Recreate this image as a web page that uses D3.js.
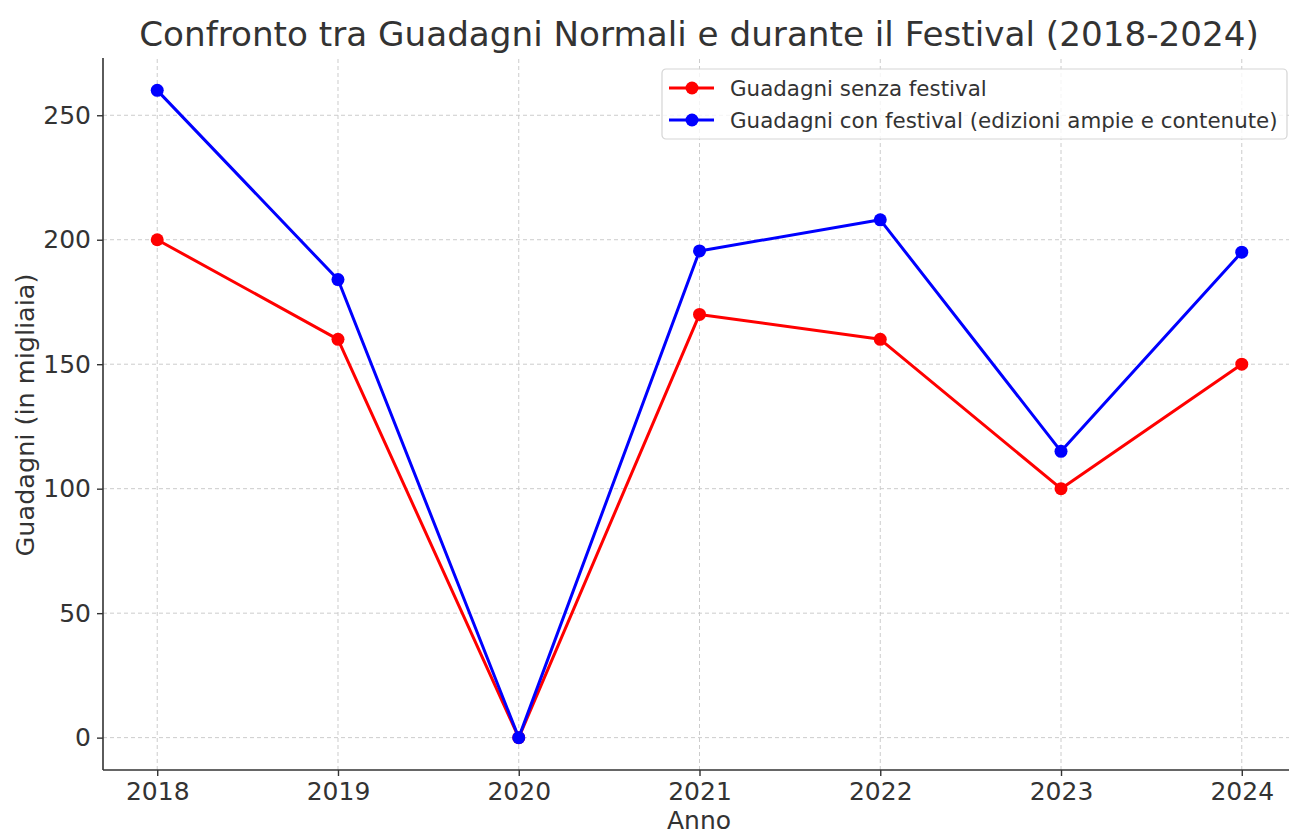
<!DOCTYPE html>
<html>
<head>
<meta charset="utf-8">
<script src="https://cdn.jsdelivr.net/npm/d3@7"></script>
<style>
  body { margin: 0; background: #fff; }
  text { font-family: "DejaVu Sans", sans-serif; fill: #333; }
</style>
</head>
<body>
<div id="chart"></div>
<script>
var anni = [2018, 2019, 2020, 2021, 2022, 2023, 2024];
var senzaFestival = [200, 160, 0, 170, 160, 100, 150];
var conFestival = [260, 184, 0, 195.5, 208, 115, 195];
var yTicks = [0, 50, 100, 150, 200, 250];
var serie = [
  { nome: "Guadagni senza festival", valori: senzaFestival, colore: "#ff0000" },
  { nome: "Guadagni con festival (edizioni ampie e contenute)", valori: conFestival, colore: "#0000ff" }
];

var width = 1289, height = 834;
var margin = { top: 58, right: -7, bottom: 64, left: 103 };

var svg = d3.select("#chart").append("svg")
  .attr("width", width)
  .attr("height", height);

var x = d3.scaleLinear()
  .domain([2018 - 0.3, 2024 + 0.3])
  .range([margin.left, width - margin.right]);

var y = d3.scaleLinear()
  .domain([-13, 273])
  .range([height - margin.bottom, margin.top]);

// grid
svg.append("g").selectAll("line.gx")
  .data(anni).enter().append("line")
  .attr("x1", d => x(d)).attr("x2", d => x(d))
  .attr("y1", y(-13)).attr("y2", y(273))
  .style("stroke", "#cccccc").style("stroke-width", 1)
  .style("stroke-dasharray", "4,3");

svg.append("g").selectAll("line.gy")
  .data(yTicks).enter().append("line")
  .attr("x1", x.range()[0]).attr("x2", x.range()[1])
  .attr("y1", d => y(d)).attr("y2", d => y(d))
  .style("stroke", "#cccccc").style("stroke-width", 1)
  .style("stroke-dasharray", "4,3");

// axes
var xAxis = svg.append("g")
  .attr("transform", "translate(0," + y(-13) + ")")
  .call(d3.axisBottom(x).tickValues(anni).tickFormat(d3.format("d")).tickSize(6).tickPadding(6));
var yAxis = svg.append("g")
  .attr("transform", "translate(" + x(2017.7) + ",0)")
  .call(d3.axisLeft(y).tickValues(yTicks).tickSize(6).tickPadding(6));

[xAxis, yAxis].forEach(function(a) {
  a.select(".domain").style("stroke", "#333").style("stroke-width", 1.6);
  a.selectAll(".tick line").style("stroke", "#333").style("stroke-width", 1.4);
  a.selectAll(".tick text").style("font-size", "25px").style("fill", "#333")
    .attr("font-family", "DejaVu Sans");
});
xAxis.select(".domain").attr("d", "M" + x.range()[0] + ",0H" + x.range()[1]);
yAxis.select(".domain").attr("d", "M0," + y.range()[0] + "V" + y.range()[1]);

// lines
var line = d3.line()
  .x((d, i) => x(anni[i]))
  .y(d => y(d));

serie.forEach(function(s) {
  svg.append("path")
    .datum(s.valori)
    .attr("d", line)
    .style("fill", "none")
    .style("stroke", s.colore)
    .style("stroke-width", 3)
    .style("stroke-linejoin", "round");
  svg.append("g").selectAll("circle")
    .data(s.valori).enter().append("circle")
    .attr("cx", (d, i) => x(anni[i]))
    .attr("cy", d => y(d))
    .attr("r", 6.5)
    .style("fill", s.colore);
});

// title and labels
svg.append("text")
  .attr("x", 699).attr("y", 46)
  .attr("text-anchor", "middle")
  .style("font-size", "34.2px")
  .text("Confronto tra Guadagni Normali e durante il Festival (2018-2024)");

svg.append("text")
  .attr("x", 699).attr("y", 829)
  .attr("text-anchor", "middle")
  .style("font-size", "25px")
  .text("Anno");

svg.append("text")
  .attr("transform", "translate(34,415) rotate(-90)")
  .attr("text-anchor", "middle")
  .style("font-size", "25.5px")
  .text("Guadagni (in migliaia)");

// legend
var leg = svg.append("g").attr("transform", "translate(662,69)");
leg.append("rect")
  .attr("width", 625).attr("height", 70)
  .attr("rx", 4)
  .style("fill", "#fff").style("fill-opacity", 0.8)
  .style("stroke", "#d5d5d5").style("stroke-width", 1.2);

var voci = leg.selectAll("g.voce")
  .data(serie).enter().append("g")
  .attr("transform", (d, i) => "translate(0," + (19 + i * 32) + ")");
voci.append("line")
  .attr("x1", 7).attr("x2", 52)
  .style("stroke", d => d.colore).style("stroke-width", 3);
voci.append("circle")
  .attr("cx", 30).attr("r", 6.5)
  .style("fill", d => d.colore);
voci.append("text")
  .attr("x", 68).attr("dy", "0.35em")
  .style("font-size", "21.4px")
  .text(d => d.nome);
</script>
</body>
</html>
